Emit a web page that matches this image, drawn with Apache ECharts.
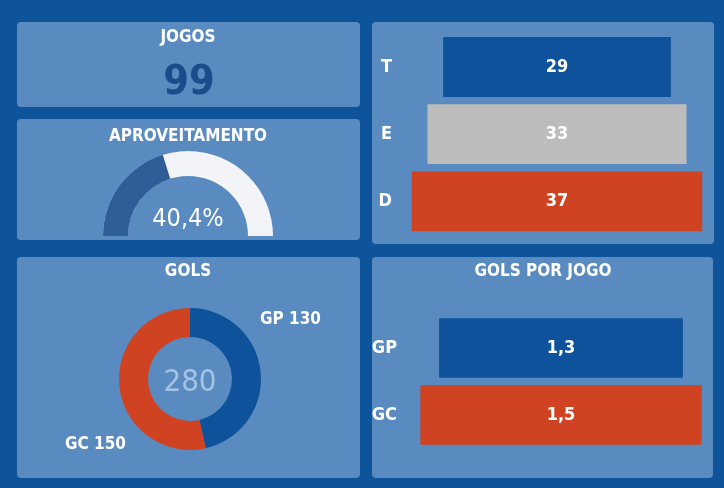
<!DOCTYPE html>
<html>
<head>
<meta charset="utf-8">
<script src="https://cdn.jsdelivr.net/npm/echarts@6/dist/echarts.min.js"></script>
<style>
html,body{margin:0;padding:0;background:#0e549b;}
#c{width:724px;height:488px;}
</style>
</head>
<body>
<div id="c"></div>
<script>
// ---- data ----
const jogosTitle = 'JOGOS';
const jogos = 99;
const aprovTitle = 'APROVEITAMENTO';
const aproveitamento = 40.4;
const resultCats = ['T', 'E', 'D'];
const resultValues = [29, 33, 37];
const golsTitle = 'GOLS';
const golsNames = ['GP', 'GC'];
const golsValues = [130, 150];
const gpjTitle = 'GOLS POR JOGO';
const gpjCats = ['GP', 'GC'];
const gpjValues = [1.3, 1.5];

// ---- styles ----
const FONT = '"DejaVu Sans Condensed","Liberation Sans Narrow","Roboto",sans-serif';
const BG = '#0e549b';
const PANEL = '#5a8bc0';
const BLUE = '#0d529a';
const GREY = '#bcbcbc';
const RED = '#d04322';
const resultColors = [BLUE, GREY, RED];
const gpjColors = [BLUE, RED];
const golsColors = [BLUE, RED];

const fmt1 = v => v.toFixed(1).replace('.', ',');

const chart = echarts.init(document.getElementById('c'), null, {renderer: 'canvas'});

function panel(x, y, w, h) {
  return {type: 'rect', z: -10, shape: {x: x, y: y, width: w, height: h, r: 4}, style: {fill: PANEL}};
}
function title(text, x, y) {
  return {type: 'text', z: 10, style: {text: text, x: x, y: y, align: 'center', verticalAlign: 'middle',
    fill: '#ffffff', font: 'bold 17px ' + FONT}};
}

function centeredBars(colors, labels) {
  return function (params, api) {
    const v = api.value(0);
    const i = api.value(1);
    const p1 = api.coord([-v / 2, i]);
    const p2 = api.coord([v / 2, i]);
    const h = api.size([0, 1])[1] * 0.89;
    return {
      type: 'group',
      children: [
        {type: 'rect', shape: {x: p1[0], y: p1[1] - h / 2, width: p2[0] - p1[0], height: h},
         style: {fill: colors[params.dataIndex]}},
        {type: 'text', style: {text: labels(v), x: (p1[0] + p2[0]) / 2, y: p1[1], align: 'center',
         verticalAlign: 'middle', fill: '#ffffff', font: 'bold 18px ' + FONT}}
      ]
    };
  };
}

const golsTotal = golsValues.reduce((a, b) => a + b, 0);

const option = {
  backgroundColor: BG,
  animation: false,
  graphic: [
    panel(17, 22, 343, 85),
    panel(17, 119, 343, 121),
    panel(372, 22, 342, 222),
    panel(17, 257, 343, 221),
    panel(372, 257, 341, 221),
    title(jogosTitle, 188, 38),
    title(aprovTitle, 188, 137),
    title(golsTitle, 188, 272),
    title(gpjTitle, 543, 272),
    {type: 'text', z: 10, style: {text: String(jogos), x: 189, y: 83, align: 'center', verticalAlign: 'middle',
      fill: '#1b4c8c', font: 'bold 41px ' + FONT}},
    {type: 'text', z: 10, style: {text: String(golsTotal), x: 190, y: 383, align: 'center', verticalAlign: 'middle',
      fill: '#a5c3e3', font: '31px ' + FONT}}
  ],
  grid: [
    {left: 400, width: 314, top: 33.4, height: 201.6},
    {left: 411, width: 300, top: 314.5, height: 134}
  ],
  xAxis: [
    {gridIndex: 0, type: 'value', min: -20, max: 20, show: false},
    {gridIndex: 1, type: 'value', min: -0.8, max: 0.8, show: false}
  ],
  yAxis: [
    {gridIndex: 0, type: 'category', data: resultCats, inverse: true,
     axisLine: {show: false}, axisTick: {show: false}, splitLine: {show: false},
     axisLabel: {color: '#ffffff', fontFamily: FONT, fontWeight: 'bold', fontSize: 18, margin: 8}},
    {gridIndex: 1, type: 'category', data: gpjCats, inverse: true,
     axisLine: {show: false}, axisTick: {show: false}, splitLine: {show: false},
     axisLabel: {color: '#ffffff', fontFamily: FONT, fontWeight: 'bold', fontSize: 18, margin: 14}}
  ],
  series: [
    {
      type: 'gauge',
      center: [188, 236],
      radius: 85,
      startAngle: 180,
      endAngle: 0,
      min: 0,
      max: 100,
      splitNumber: 1,
      pointer: {show: false},
      axisTick: {show: false},
      splitLine: {show: false},
      axisLabel: {show: false},
      anchor: {show: false},
      title: {show: false},
      progress: {show: true, width: 25, roundCap: false, itemStyle: {color: '#2e5d98'}},
      axisLine: {roundCap: false, lineStyle: {width: 25, color: [[1, '#f2f4f8']]}},
      detail: {
        offsetCenter: [0, -17],
        formatter: v => fmt1(v) + '%',
        color: '#ffffff',
        fontFamily: FONT,
        fontSize: 25,
        fontWeight: 'normal'
      },
      data: [{value: aproveitamento}]
    },
    {
      type: 'pie',
      center: [190, 379],
      radius: [42, 71],
      startAngle: 90,
      clockwise: true,
      emphasis: {disabled: true},
      label: {
        show: true,
        position: 'outside',
        overflow: 'none',
        formatter: p => p.name + ' ' + p.value,
        color: '#ffffff',
        fontFamily: FONT,
        fontWeight: 'bold',
        fontSize: 17
      },
      labelLine: {show: true, length: 6, length2: 6, lineStyle: {color: 'rgba(0,0,0,0)'}},
      labelLayout: function (p) {
        if (p.dataIndex === 0) return {x: 260, y: 320, align: 'left', verticalAlign: 'middle'};
        return {x: 126, y: 445, align: 'right', verticalAlign: 'middle'};
      },
      data: golsNames.map((n, i) => ({name: n, value: golsValues[i], itemStyle: {color: golsColors[i]}}))
    },
    {
      type: 'custom',
      xAxisIndex: 0,
      yAxisIndex: 0,
      encode: {x: 0, y: 1},
      renderItem: centeredBars(resultColors, v => String(v)),
      data: resultValues.map((v, i) => [v, i])
    },
    {
      type: 'custom',
      xAxisIndex: 1,
      yAxisIndex: 1,
      encode: {x: 0, y: 1},
      renderItem: centeredBars(gpjColors, v => fmt1(v)),
      data: gpjValues.map((v, i) => [v, i])
    }
  ]
};
chart.setOption(option);
</script>
</body>
</html>
